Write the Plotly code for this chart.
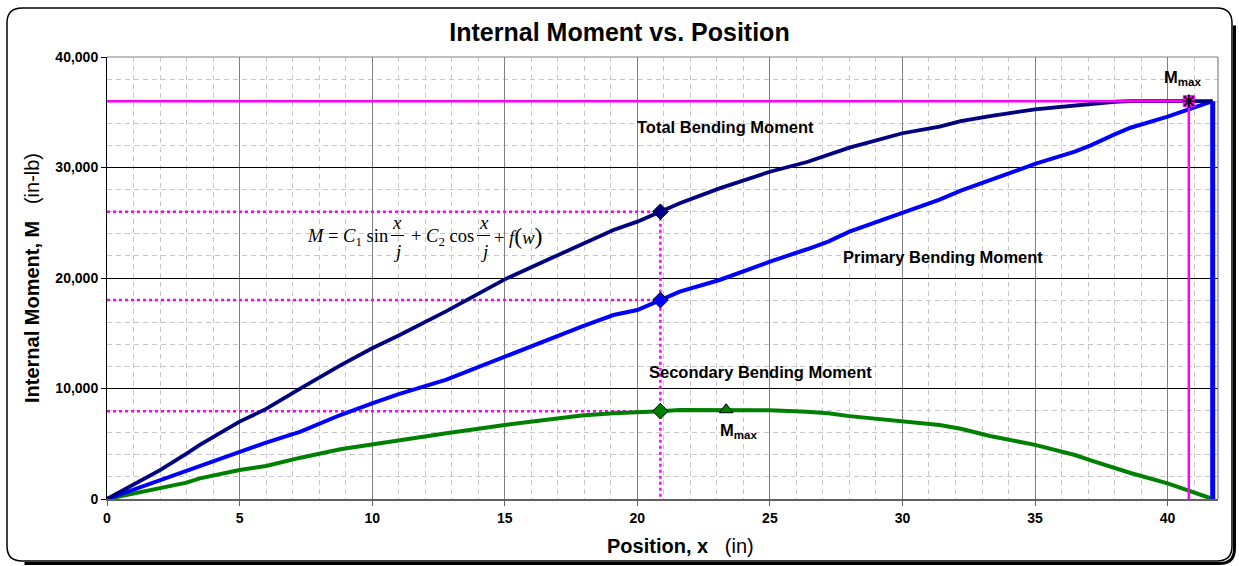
import math
import plotly.graph_objects as go

# ---- beam data: position along the member (in) and internal moments (in-lb) ----
position = [0, 1, 2, 3, 3.5, 5, 6, 7.3, 8.8, 10,
            11, 12.8, 15, 16.6, 17.9, 19.1, 20, 20.87, 21.6, 23.1,
            25, 26.4, 27.2, 28, 30, 31.4, 32.2, 33.3, 35, 36.5,
            37.1, 38, 38.6, 40, 40.9, 41.7]

total_moment = [0, 1330, 2620, 4100, 4890, 7000, 8150, 10020, 12100, 13640,
                14800, 17000, 19880, 21630, 23000, 24340, 25100, 26000, 26760, 28110,
                29620, 30500, 31130, 31800, 33100, 33700, 34200, 34660, 35270, 35650,
                35800, 35950, 36000, 36000, 36000, 36000]

primary_moment = [0, 850, 1720, 2550, 2950, 4280, 5100, 6100, 7600, 8660,
                  9500, 10800, 12900, 14390, 15600, 16650, 17100, 18000, 18760, 19820,
                  21480, 22600, 23300, 24200, 25910, 27100, 27900, 28870, 30320, 31430,
                  32000, 33000, 33600, 34600, 35360, 36000]

secondary_moment = [0, 480, 970, 1480, 1870, 2620, 2990, 3740, 4500, 4950,
                    5280, 5950, 6700, 7150, 7550, 7750, 7820, 7950, 8050, 8050,
                    8030, 7900, 7750, 7500, 7050, 6700, 6350, 5700, 4900, 3980,
                    3500, 2780, 2350, 1420, 660, 0]

section_index = 17                      # section at x = 20.87 in
secondary_max_x, secondary_max = 23.35, 8080
total_max_x, total_max = 40.8, 36000

x_ticks = [0, 5, 10, 15, 20, 25, 30, 35, 40]
y_ticks = [0, 10000, 20000, 30000, 40000]

NAVY, BLUE, GREEN, MAGENTA = "#000080", "#0000FF", "#008000", "#FF00FF"
SANS = "Liberation Sans"
SERIF = "Liberation Serif"

# plot-area geometry (pixels) used to place free text and the frame
PL, PR, PT, PB = 107, 1218, 57, 499
X_MAX, Y_MAX = 41.9, 40000


def pap(px, py):
    return (px - PL) / (PR - PL), (PB - py) / (PB - PT)


fig = go.Figure()

# ---- magenta reference lines at the section ----
sec_x = position[section_index]
for val in (total_moment[section_index], primary_moment[section_index],
            secondary_moment[section_index]):
    fig.add_trace(go.Scatter(x=[0, sec_x], y=[val, val], mode="lines",
                             line=dict(color=MAGENTA, width=2.5, dash="3px,3px"),
                             hoverinfo="skip"))
fig.add_trace(go.Scatter(x=[sec_x, sec_x], y=[total_moment[section_index], 0], mode="lines",
                         line=dict(color=MAGENTA, width=2.5, dash="3px,3px"),
                         hoverinfo="skip"))

# ---- moment curves ----
fig.add_trace(go.Scatter(x=position, y=secondary_moment, mode="lines",
                         line=dict(color=GREEN, width=4), name="Secondary"))
fig.add_trace(go.Scatter(x=position, y=primary_moment, mode="lines",
                         line=dict(color=BLUE, width=4), name="Primary"))
fig.add_trace(go.Scatter(x=position, y=total_moment, mode="lines",
                         line=dict(color=NAVY, width=3.8), name="Total"))
# end of member: primary moment returns to zero at the support
fig.add_trace(go.Scatter(x=[position[-1], position[-1]], y=[primary_moment[-1], 0],
                         mode="lines", line=dict(color=BLUE, width=5), hoverinfo="skip"))

# total maximum guide lines
fig.add_trace(go.Scatter(x=[0, total_max_x], y=[total_max, total_max], mode="lines",
                         line=dict(color=MAGENTA, width=2.5), hoverinfo="skip"))
fig.add_trace(go.Scatter(x=[total_max_x, total_max_x], y=[total_max, 0], mode="lines",
                         line=dict(color=MAGENTA, width=2.5), hoverinfo="skip"))

# ---- markers ----
for vals, col in ((total_moment, NAVY), (primary_moment, BLUE), (secondary_moment, GREEN)):
    fig.add_trace(go.Scatter(x=[sec_x], y=[vals[section_index]], mode="markers",
                             marker=dict(symbol="diamond", size=12, color=col,
                                         line=dict(color="black", width=1))))
fig.add_trace(go.Scatter(x=[secondary_max_x], y=[secondary_max], mode="markers",
                         marker=dict(symbol="triangle-up", size=12, color=GREEN,
                                     line=dict(color="black", width=1))))
fig.add_trace(go.Scatter(x=[total_max_x], y=[total_max], mode="markers",
                         marker=dict(symbol="square", size=11, color=MAGENTA,
                                     line=dict(color=MAGENTA, width=1))))
fig.add_trace(go.Scatter(x=[total_max_x], y=[total_max], mode="markers",
                         marker=dict(symbol="asterisk-open", size=11, color="black",
                                     line=dict(color="black", width=1.6))))

# ---- frame and darker major grid lines (snapped to whole pixels) ----
shapes = []
for xv in (5, 10, 15):
    px = math.floor(PL + xv / X_MAX * (PR - PL)) + 0.5
    xp = (px - PL) / (PR - PL)
    shapes.append(dict(type="line", xref="paper", yref="paper", x0=xp, x1=xp, y0=0, y1=1,
                       line=dict(color="black", width=1), layer="between"))
shapes.append(dict(type="line", xref="paper", yref="paper", x0=0, x1=1, y0=1, y1=1,
                   line=dict(color="#808080", width=1.2)))
shapes.append(dict(type="line", xref="paper", yref="paper", x0=1, x1=1, y0=0, y1=1,
                   line=dict(color="#808080", width=1.2)))


def rounded_path(L, T, R, B, r):
    pts = [("M", (L + r, T)), ("L", (R - r, T)), ("Q", (R, T), (R, T + r)),
           ("L", (R, B - r)), ("Q", (R, B), (R - r, B)), ("L", (L + r, B)),
           ("Q", (L, B), (L, B - r)), ("L", (L, T + r)), ("Q", (L, T), (L + r, T))]
    out = []
    for item in pts:
        coords = " ".join("%.5f,%.5f" % pap(*p) for p in item[1:])
        out.append(item[0] + " " + coords)
    return " ".join(out) + " Z"


def shadow_path(L, T, R, B, r, d):
    p = [pap(R + d, T + r + d), pap(R + d, B - r + d), pap(R + d, B + d),
         pap(R - r + d, B + d), pap(L + r + d, B + d)]
    return ("M %.5f,%.5f L %.5f,%.5f Q %.5f,%.5f %.5f,%.5f L %.5f,%.5f"
            % (p[0] + p[1] + p[2] + p[3] + p[4]))


shapes.append(dict(type="path", xref="paper", yref="paper",
                   path=shadow_path(7, 8, 1232, 561, 15, 2.5),
                   line=dict(color="black", width=3)))
shapes.append(dict(type="path", xref="paper", yref="paper",
                   path=rounded_path(7, 8, 1232, 561, 15),
                   line=dict(color="black", width=1.5)))

# fraction bars of the moment equation
for x0, x1 in ((391, 404), (477, 490)):
    a0, b0 = pap(x0, 235.5)
    a1, _ = pap(x1, 235.5)
    shapes.append(dict(type="line", xref="paper", yref="paper", x0=a0, x1=a1, y0=b0, y1=b0,
                       line=dict(color="black", width=1)))

# ---- text ----
ann = []


def text(px, py, s, size, family=SANS, xanchor="center", yanchor="middle", angle=0):
    a, b = pap(px, py)
    ann.append(dict(x=a, y=b, xref="paper", yref="paper", text=s, showarrow=False,
                    xanchor=xanchor, yanchor=yanchor, textangle=angle,
                    font=dict(family=family, size=size, color="black")))


text(725, 127, "<b>Total Bending Moment</b>", 16.5)
text(943, 257, "<b>Primary Bending Moment</b>", 16.5)
text(760, 372, "<b>Secondary Bending Moment</b>", 16.5)
text(1182, 78, "<b>M<sub>max</sub></b>", 16.5)
text(738, 431, "<b>M<sub>max</sub></b>", 16.5)

# M = C1 sin(x/j) + C2 cos(x/j) + f(w)
text(305, 237, "<i>M</i> = <i>C</i><sub>1</sub> sin", 18.5, SERIF, xanchor="left")
text(397, 222, "<i>x</i>", 19, SERIF)
text(397, 251, "<i>j</i>", 19, SERIF)
text(409, 237, "+ <i>C</i><sub>2</sub> cos", 18.5, SERIF, xanchor="left")
text(484, 222, "<i>x</i>", 19, SERIF)
text(484, 251, "<i>j</i>", 19, SERIF)
text(492, 236, "+ <i>f</i><span style=\"font-size:24px\">(</span><i>w</i>"
               "<span style=\"font-size:24px\">)</span>", 18.5, SERIF, xanchor="left")

# axis titles
text(680, 546, "<b>Position, x</b>&nbsp;&nbsp; (in)", 20)
text(32, 278, "<b>Internal Moment, M</b>&nbsp;&nbsp; (in-lb)", 20, angle=-90)

fig.update_layout(
    width=1239, height=566,
    margin=dict(l=PL, r=1239 - PR, t=PT, b=566 - PB, autoexpand=False),
    paper_bgcolor="white", plot_bgcolor="white",
    showlegend=False,
    title=dict(text="<b>Internal Moment vs. Position</b>", x=0.5, xanchor="center",
               y=1 - 32 / 566, yanchor="middle",
               font=dict(family=SANS, size=25, color="black")),
    shapes=shapes, annotations=ann,
)

fig.update_xaxes(
    range=[0, X_MAX], tickvals=x_ticks, ticks="outside", ticklen=5, tickcolor="#606060",
    tickfont=dict(family=SANS, size=14, color="black", weight="bold"),
    showline=True, linecolor="#606060", linewidth=2, zeroline=False,
    showgrid=True, gridcolor="#808080", gridwidth=1,
    minor=dict(dtick=1, tick0=0, showgrid=True, gridcolor="#c8c8c8",
               griddash="5px,4px", gridwidth=1),
)
fig.update_yaxes(
    range=[0, Y_MAX], tickvals=y_ticks, tickformat=",d", ticks="outside", ticklen=5,
    tickcolor="black",
    tickfont=dict(family=SANS, size=14, color="black", weight="bold"),
    showline=True, linecolor="black", linewidth=1, zeroline=False,
    showgrid=True, gridcolor="black", gridwidth=1,
    minor=dict(dtick=2000, tick0=0, showgrid=True, gridcolor="#c8c8c8",
               griddash="5px,4px", gridwidth=1),
)

fig.write_html("out.html")
